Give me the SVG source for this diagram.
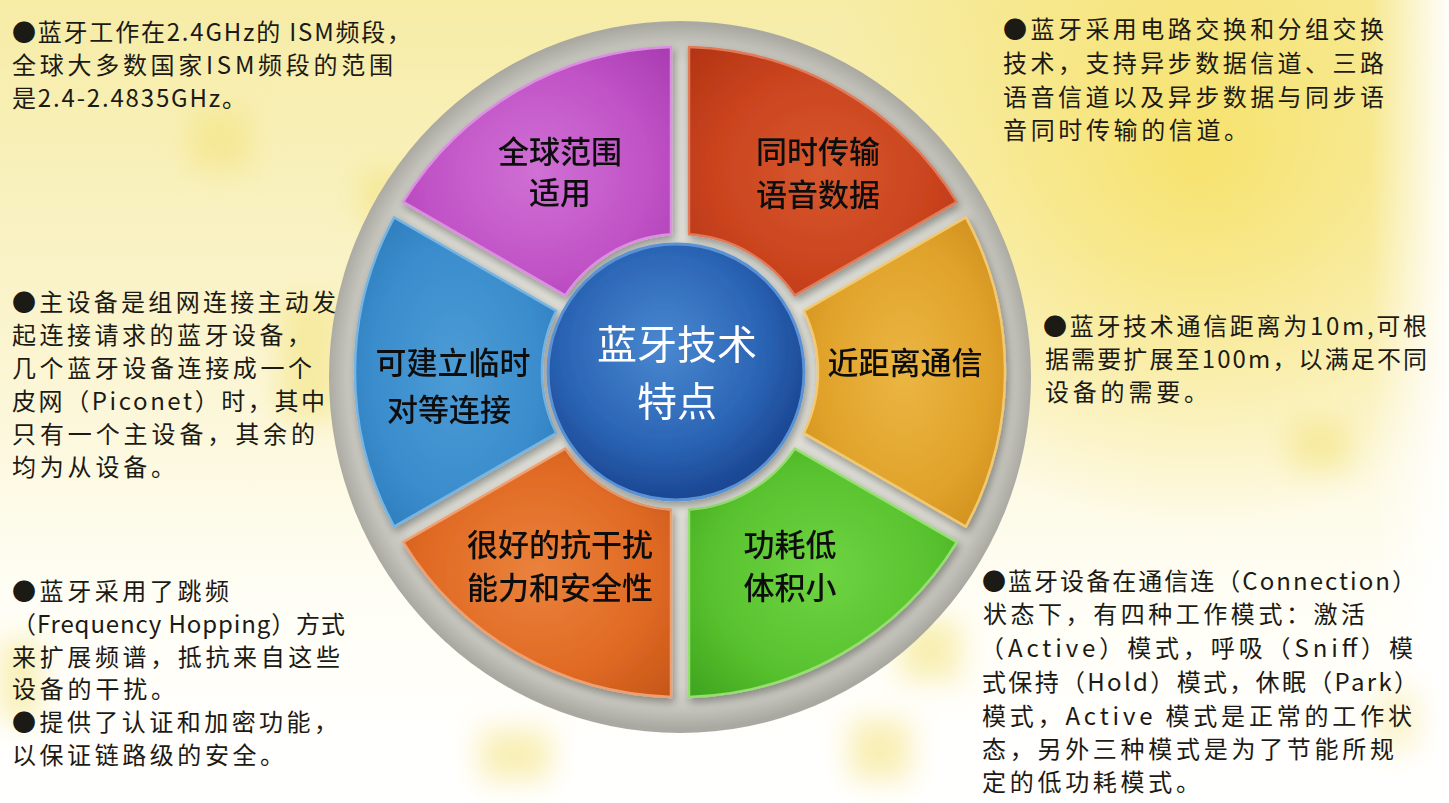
<svg xmlns="http://www.w3.org/2000/svg" width="1449" height="803" viewBox="0 0 1449 803">
<defs>
<style>
.side{font-family:"Noto Sans CJK SC","Noto Sans CJK TC",sans-serif;font-size:24px;fill:#1c1a14;}
.lab{font-family:"Noto Sans CJK SC",sans-serif;font-size:31px;font-weight:500;fill:#111;text-anchor:middle;}
.ctr{font-family:"Noto Sans CJK SC",sans-serif;font-size:40px;fill:#ffffff;text-anchor:middle;}
.seg{stroke-width:2.5;stroke-linejoin:round;}
</style>
<linearGradient id="bgv" x1="0" y1="0" x2="0" y2="1">
<stop offset="0" stop-color="#f6eca6"/>
<stop offset="0.45" stop-color="#fbf5d2"/>
<stop offset="0.75" stop-color="#fffef6"/>
<stop offset="1" stop-color="#ffffff"/>
</linearGradient>
<radialGradient id="bgy" cx="1200" cy="150" r="380" gradientUnits="userSpaceOnUse">
<stop offset="0" stop-color="#f6e060" stop-opacity="0.85"/>
<stop offset="1" stop-color="#f6e060" stop-opacity="0"/>
</radialGradient>
<linearGradient id="bgr" x1="1370" y1="0" x2="1449" y2="0" gradientUnits="userSpaceOnUse">
<stop offset="0" stop-color="#ffffff" stop-opacity="0"/>
<stop offset="1" stop-color="#ffffff" stop-opacity="0.95"/>
</linearGradient>
<filter id="blur" x="-50%" y="-50%" width="200%" height="200%"><feGaussianBlur stdDeviation="14"/></filter>
<filter id="sh" x="-20%" y="-20%" width="140%" height="140%"><feGaussianBlur in="SourceAlpha" stdDeviation="4"/><feOffset dx="2" dy="4"/><feComponentTransfer><feFuncA type="linear" slope="0.35"/></feComponentTransfer><feMerge><feMergeNode/><feMergeNode in="SourceGraphic"/></feMerge></filter>
<radialGradient id="disk" cx="680" cy="376" r="353" gradientUnits="userSpaceOnUse">
<stop offset="0" stop-color="#e6e6e0"/>
<stop offset="0.88" stop-color="#d6d6ce"/>
<stop offset="0.94" stop-color="#c6c6be"/>
<stop offset="1" stop-color="#a9a9a1"/>
</radialGradient>
<radialGradient id="gPur" cx="0.5" cy="0.5" r="0.7"><stop offset="0" stop-color="#d070d4"/><stop offset="0.6" stop-color="#c052c6"/><stop offset="1" stop-color="#a83cb0"/></radialGradient>
<radialGradient id="gRed" cx="0.5" cy="0.5" r="0.7"><stop offset="0" stop-color="#d8582e"/><stop offset="0.6" stop-color="#c9431e"/><stop offset="1" stop-color="#b23414"/></radialGradient>
<radialGradient id="gYel" cx="0.5" cy="0.5" r="0.7"><stop offset="0" stop-color="#ebb642"/><stop offset="0.6" stop-color="#e0a22a"/><stop offset="1" stop-color="#c9881a"/></radialGradient>
<radialGradient id="gGrn" cx="0.5" cy="0.5" r="0.7"><stop offset="0" stop-color="#6ed442"/><stop offset="0.6" stop-color="#58c22e"/><stop offset="1" stop-color="#3ea41e"/></radialGradient>
<radialGradient id="gOrg" cx="0.5" cy="0.5" r="0.7"><stop offset="0" stop-color="#ea823c"/><stop offset="0.6" stop-color="#e06a24"/><stop offset="1" stop-color="#c65618"/></radialGradient>
<radialGradient id="gBlu" cx="0.5" cy="0.5" r="0.7"><stop offset="0" stop-color="#4c9cd6"/><stop offset="0.6" stop-color="#3a8ccc"/><stop offset="1" stop-color="#2a76b6"/></radialGradient>
<radialGradient id="gCtr" cx="0.45" cy="0.4" r="0.65"><stop offset="0" stop-color="#4a88d0"/><stop offset="0.6" stop-color="#2a64b4"/><stop offset="1" stop-color="#183f8a"/></radialGradient>
</defs>

<g id="background">
<rect x="0" y="0" width="1449" height="803" fill="url(#bgv)"/>
<rect x="0" y="0" width="1449" height="803" fill="url(#bgy)"/>
<g filter="url(#blur)" fill="#f3e27a" opacity="0.55">
<rect x="190" y="110" width="60" height="60"/>
<rect x="360" y="170" width="50" height="50"/>
<rect x="280" y="300" width="60" height="120"/>
<rect x="480" y="730" width="70" height="50"/>
<rect x="850" y="720" width="60" height="60"/>
<rect x="900" y="620" width="60" height="60"/>
<rect x="1290" y="420" width="60" height="50"/>
<rect x="1380" y="690" width="50" height="60"/>
<rect x="0" y="640" width="40" height="80"/>
</g>
<rect x="0" y="0" width="1449" height="803" fill="url(#bgr)"/>
</g>

<g id="wheel-base">
<ellipse cx="680" cy="377" rx="351" ry="356" fill="url(#disk)"/>
</g>

<g id="connectors"></g>

<g id="node-red" filter="url(#sh)">
<path class="seg" d="M794.8,295.4 L956.8,201.8 A325,325 0 0 0 689,47.1 L689,234.3 A138,138 0 0 1 794.8,295.4 Z" fill="url(#gRed)" stroke="#e07a58"/>
<text class="lab" x="818" y="163">同时传输</text>
<text class="lab" x="818" y="206">语音数据</text>
</g>
<g id="node-purple" filter="url(#sh)">
<path class="seg" d="M671,234.3 L671,47.1 A325,325 0 0 0 403.2,201.8 L565.2,295.4 A138,138 0 0 1 671,234.3 Z" fill="url(#gPur)" stroke="#dc8ee0"/>
<text class="lab" x="560" y="163">全球范围</text>
<text class="lab" x="560" y="204">适用</text>
</g>
<g id="node-blue" filter="url(#sh)">
<path class="seg" d="M556.2,310.9 L394.1,217.4 A325,325 0 0 0 394.1,526.6 L556.2,433.1 A138,138 0 0 1 556.2,310.9 Z" fill="url(#gBlu)" stroke="#76b4e2"/>
<text class="lab" x="453" y="374">可建立临时</text>
<text class="lab" x="449" y="421">对等连接</text>
</g>
<g id="node-orange" filter="url(#sh)">
<path class="seg" d="M565.2,448.6 L403.2,542.2 A325,325 0 0 0 671,696.9 L671,509.7 A138,138 0 0 1 565.2,448.6 Z" fill="url(#gOrg)" stroke="#f0a070"/>
<text class="lab" x="560" y="556">很好的抗干扰</text>
<text class="lab" x="560" y="599">能力和安全性</text>
</g>
<g id="node-green" filter="url(#sh)">
<path class="seg" d="M689,509.7 L689,696.9 A325,325 0 0 0 956.8,542.2 L794.8,448.6 A138,138 0 0 1 689,509.7 Z" fill="url(#gGrn)" stroke="#96e070"/>
<text class="lab" x="790" y="556">功耗低</text>
<text class="lab" x="790" y="599">体积小</text>
</g>
<g id="node-yellow" filter="url(#sh)">
<path class="seg" d="M803.8,433.1 L965.9,526.6 A325,325 0 0 0 965.9,217.4 L803.8,310.9 A138,138 0 0 1 803.8,433.1 Z" fill="url(#gYel)" stroke="#f2c870"/>
<text class="lab" x="905" y="374">近距离通信</text>
</g>

<g id="node-center" filter="url(#sh)">
<circle cx="676" cy="372" r="128" fill="url(#gCtr)" stroke="#5a92d6" stroke-width="3"/>
<text class="ctr" x="677" y="359">蓝牙技术</text>
<text class="ctr" x="677" y="416">特点</text>
</g>

<g id="note-ism">
<text class="side" x="12" y="41" textLength="399" lengthAdjust="spacing">●蓝牙工作在2.4GHz的 ISM频段，</text>
<text class="side" x="12" y="74" textLength="381" lengthAdjust="spacing">全球大多数国家ISM频段的范围</text>
<text class="side" x="12" y="107" textLength="234" lengthAdjust="spacing">是2.4-2.4835GHz。</text>
</g>
<g id="note-voice">
<text class="side" x="1003" y="38" textLength="381" lengthAdjust="spacing">●蓝牙采用电路交换和分组交换</text>
<text class="side" x="1003" y="72" textLength="381" lengthAdjust="spacing">技术，支持异步数据信道、三路</text>
<text class="side" x="1003" y="106" textLength="381" lengthAdjust="spacing">语音信道以及异步数据与同步语</text>
<text class="side" x="1003" y="139" textLength="245" lengthAdjust="spacing">音同时传输的信道。</text>
</g>
<g id="note-piconet">
<text class="side" x="12" y="311" textLength="324" lengthAdjust="spacing">●主设备是组网连接主动发</text>
<text class="side" x="12" y="344" textLength="299" lengthAdjust="spacing">起连接请求的蓝牙设备，</text>
<text class="side" x="12" y="377" textLength="300" lengthAdjust="spacing">几个蓝牙设备连接成一个</text>
<text class="side" x="12" y="410" textLength="313" lengthAdjust="spacing">皮网（Piconet）时，其中</text>
<text class="side" x="12" y="443" textLength="303" lengthAdjust="spacing">只有一个主设备，其余的</text>
<text class="side" x="12" y="476" textLength="163" lengthAdjust="spacing">均为从设备。</text>
</g>
<g id="note-range">
<text class="side" x="1043" y="335" textLength="384" lengthAdjust="spacing">●蓝牙技术通信距离为10m,可根</text>
<text class="side" x="1045" y="368" textLength="382" lengthAdjust="spacing">据需要扩展至100m，以满足不同</text>
<text class="side" x="1045" y="401" textLength="163" lengthAdjust="spacing">设备的需要。</text>
</g>
<g id="note-hopping">
<text class="side" x="12" y="600" textLength="217" lengthAdjust="spacing">●蓝牙采用了跳频</text>
<text class="side" x="12" y="633" textLength="333" lengthAdjust="spacing">（Frequency Hopping）方式</text>
<text class="side" x="12" y="666" textLength="328" lengthAdjust="spacing">来扩展频谱，抵抗来自这些</text>
<text class="side" x="12" y="698" textLength="163" lengthAdjust="spacing">设备的干扰。</text>
<text class="side" x="12" y="731" textLength="326" lengthAdjust="spacing">●提供了认证和加密功能，</text>
<text class="side" x="12" y="764" textLength="272" lengthAdjust="spacing">以保证链路级的安全。</text>
</g>
<g id="note-modes">
<text class="side" x="982" y="590" textLength="434" lengthAdjust="spacing">●蓝牙设备在通信连（Connection）</text>
<text class="side" x="983" y="623" textLength="382" lengthAdjust="spacing">状态下，有四种工作模式：激活</text>
<text class="side" x="980" y="657" textLength="433" lengthAdjust="spacing">（Active）模式，呼吸（Sniff）模</text>
<text class="side" x="982" y="691" textLength="436" lengthAdjust="spacing">式保持（Hold）模式，休眠（Park）</text>
<text class="side" x="982" y="725" textLength="430" lengthAdjust="spacing">模式，Active 模式是正常的工作状</text>
<text class="side" x="982" y="758" textLength="412" lengthAdjust="spacing">态，另外三种模式是为了节能所规</text>
<text class="side" x="982" y="791" textLength="218" lengthAdjust="spacing">定的低功耗模式。</text>
</g>
</svg>
